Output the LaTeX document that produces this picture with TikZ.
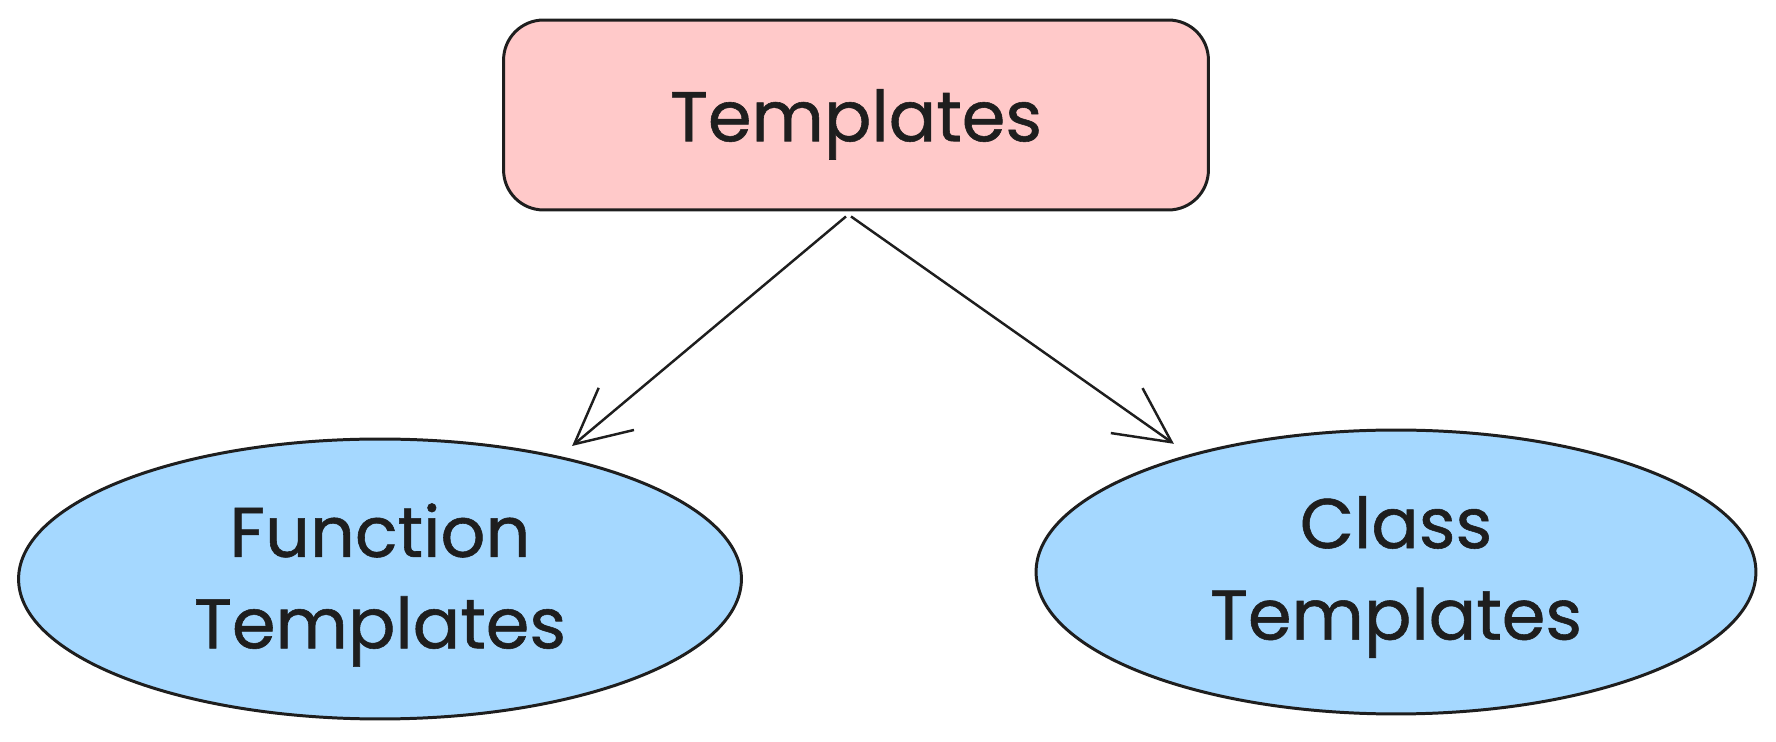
\documentclass[tikz,border=0pt]{standalone}
\usepackage{fontspec}
\setmainfont{Poppins}[FakeBold=0.8]
\usetikzlibrary{arrows.meta,positioning,shapes.geometric}
\definecolor{ink}{HTML}{1E1E1E}
\definecolor{pinkfill}{HTML}{FFC9C9}
\definecolor{bluefill}{HTML}{A5D8FF}

\begin{document}
\begin{tikzpicture}[x=0.02cm, y=-0.02cm,
    font=\fontsize{40}{52}\selectfont,
    box/.style={draw=ink, fill=pinkfill, line width=1.7pt, rounded corners=0.8cm,
        minimum width=14.1cm, minimum height=3.8cm, text height=1.4cm, text depth=0.35cm},
    blob/.style={ellipse, draw=ink, fill=bluefill, line width=1.7pt, inner sep=0pt},
    txt/.style={text=ink, align=center, inner sep=0pt},
    arr/.style={draw=ink, line width=1.4pt, -{Straight Barb[length=1.1cm, width=1.1cm]}}]
    \useasboundingbox (0,0) rectangle (1776,742);

    % Top node
    \node[box, text=ink] (tpl) at (856,115) {Templates};

    % Kinds of templates
    \node[blob, minimum width=14.46cm, minimum height=5.6cm] (fn) at (380,579) {};
    \node[txt] (fntext) at ([yshift=-0.12cm]fn.center) {Function\\Templates};
    \node[blob, minimum width=14.4cm, minimum height=5.68cm] (cls) at (1396,572) {};
    \node[txt] (clstext) at ([yshift=-0.1cm]cls.center) {Class\\Templates};

    % Arrows
    \draw[arr] ([xshift=-0.2cm, yshift=-0.1cm]tpl.south) -- ([yshift=0.26cm]fn.32);
    \draw[arr] ([xshift=-0.1cm, yshift=-0.1cm]tpl.south) -- ([yshift=0.3cm]cls.153);
\end{tikzpicture}
\end{document}
